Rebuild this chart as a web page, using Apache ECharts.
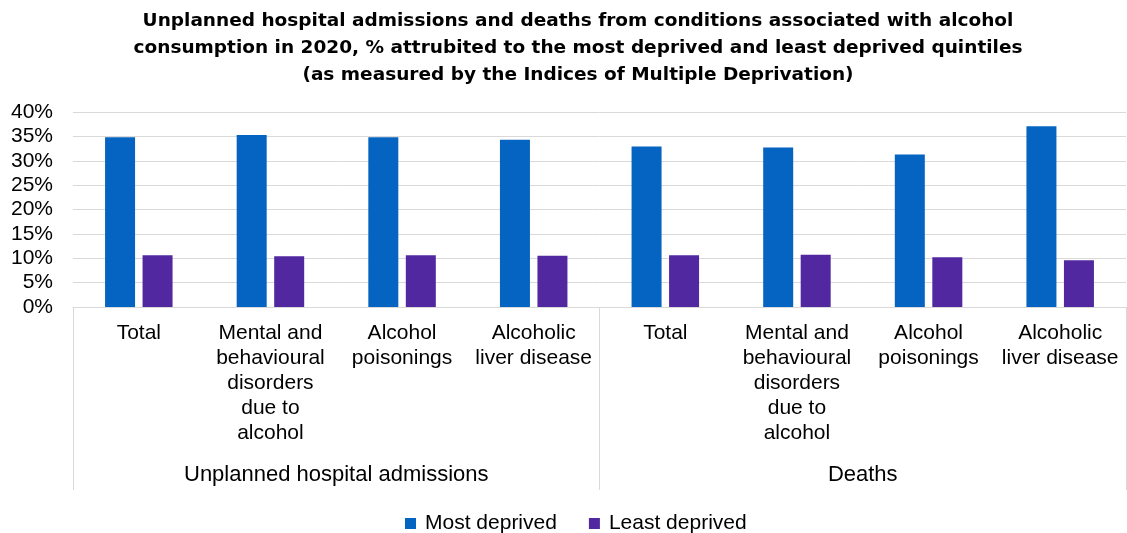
<!DOCTYPE html>
<html>
<head>
<meta charset="utf-8">
<script src="https://cdn.jsdelivr.net/npm/echarts@6/dist/echarts.min.js"></script>
<style>
html,body{margin:0;padding:0;background:#fff;}
#chart{width:1127px;height:533px;}
</style>
</head>
<body>
<div id="chart"></div>
<script>
const titleText = 'Unplanned hospital admissions and deaths from conditions associated with alcohol\nconsumption in 2020, % attrubited to the most deprived and least deprived quintiles\n(as measured by the Indices of Multiple Deprivation)';
const categories = [
  'Total',
  'Mental and\nbehavioural\ndisorders\ndue to\nalcohol',
  'Alcohol\npoisonings',
  'Alcoholic\nliver disease',
  'Total',
  'Mental and\nbehavioural\ndisorders\ndue to\nalcohol',
  'Alcohol\npoisonings',
  'Alcoholic\nliver disease'
];
const groups = ['Unplanned hospital admissions', 'Deaths'];
const seriesNames = ['Most deprived', 'Least deprived'];
const mostDeprived = [34.8, 35.3, 34.8, 34.3, 32.9, 32.7, 31.3, 37.1];
const leastDeprived = [10.6, 10.4, 10.6, 10.5, 10.6, 10.7, 10.2, 9.6];

const FONT = '"Liberation Sans", Arial, sans-serif';
const chart = echarts.init(document.getElementById('chart'), null, {renderer: 'canvas'});
chart.setOption({
  animation: false,
  backgroundColor: '#ffffff',
  textStyle: {fontFamily: FONT},
  title: {
    text: titleText,
    left: 573,
    textAlign: 'center',
    top: 3,
    textStyle: {fontFamily: '"DejaVu Sans", sans-serif', fontSize: 18.5, fontWeight: 'bold', color: '#000', lineHeight: 27}
  },
  legend: {
    data: seriesNames,
    top: 508,
    left: 400,
    icon: 'rect',
    itemWidth: 11,
    itemHeight: 11,
    itemGap: 32,
    textStyle: {fontFamily: FONT, fontSize: 21, color: '#000', padding: [0,0,0,4]}
  },
  grid: {left: 73, right: 1, top: 112, bottom: 226, containLabel: false},
  xAxis: [
    {
      type: 'category',
      data: categories,
      position: 'bottom',
      axisLine: {show: true, lineStyle: {color: '#d9d9d9', width: 1}},
      axisTick: {show: false},
      axisLabel: {interval: 0, margin: 14, fontFamily: FONT, fontSize: 21, lineHeight: 25, color: '#000'}
    },
    {
      type: 'category',
      data: groups,
      position: 'bottom',
      axisLine: {show: false},
      axisTick: {show: true, length: 183, lineStyle: {color: '#d9d9d9', width: 1}},
      axisLabel: {interval: 0, margin: 155, fontFamily: FONT, fontSize: 22, lineHeight: 26, color: '#000'}
    }
  ],
  yAxis: {
    type: 'value',
    min: 0,
    max: 40,
    interval: 5,
    axisLine: {show: false},
    axisTick: {show: false},
    splitLine: {lineStyle: {color: '#d9d9d9', width: 1}},
    axisLabel: {formatter: '{value}%', margin: 20, fontFamily: FONT, fontSize: 21, color: '#000'}
  },
  series: [
    {name: seriesNames[0], type: 'bar', xAxisIndex: 0, data: mostDeprived, barWidth: 30, barGap: '25%', itemStyle: {color: '#0563c1'}},
    {name: seriesNames[1], type: 'bar', xAxisIndex: 0, data: leastDeprived, barWidth: 30, barGap: '25%', itemStyle: {color: '#5128a0'}}
  ]
});
</script>
</body>
</html>
